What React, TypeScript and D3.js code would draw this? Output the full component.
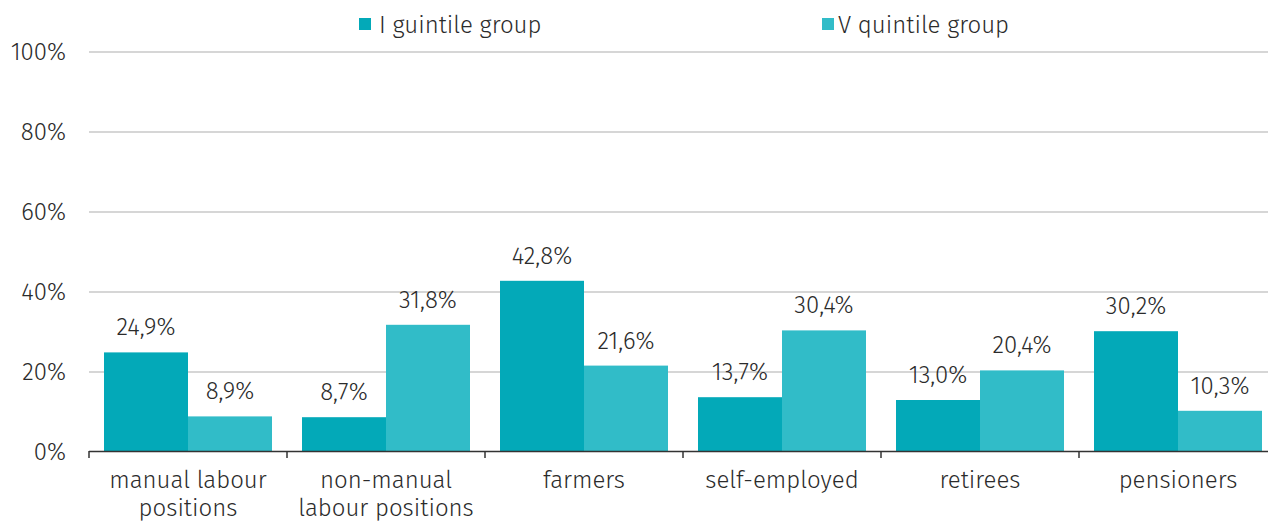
import React from "react";
import * as d3 from "d3";

const categories = [
  ["manual labour", "positions"],
  ["non-manual", "labour positions"],
  ["farmers"],
  ["self-employed"],
  ["retirees"],
  ["pensioners"],
];
const seriesNames = ["I guintile group", "V quintile group"];
const quintile1 = [24.9, 8.7, 42.8, 13.7, 13.0, 30.2];
const quintile5 = [8.9, 31.8, 21.6, 30.4, 20.4, 10.3];
const yTicks = [0, 20, 40, 60, 80, 100];

const W = 1268;
const H = 522;
const colors = ["#03A9B8", "#31BCC8"];
const font = "'Fira Sans', 'Noto Sans', sans-serif";
const textColor = "#2b2b2b";
const FS = 24;
const FW = 300;

export default function App() {
  const x0 = d3
    .scaleBand<number>()
    .domain(d3.range(categories.length))
    .range([89, 1277])
    .paddingInner(0)
    .paddingOuter(0);
  const y = d3.scaleLinear().domain([0, 100]).range([452, 52]);
  const fmt = (v: number) => v.toFixed(1).replace(".", ",") + "%";
  const series = [quintile1, quintile5];

  const pad = 15;
  const barW = (x0.bandwidth() - 2 * pad) / 2;

  return (
    <svg
      width={W}
      height={H}
      style={{ position: "absolute", left: 0, top: 0, fontFamily: font, fontWeight: FW }}
    >
      <rect width={W} height={H} fill="#ffffff" />
      {yTicks.map((t) => (
        <g key={t}>
          {t > 0 && (
            <line x1={89} x2={W} y1={y(t)} y2={y(t)} stroke="#c9c9c9" strokeWidth={1.5} />
          )}
          <text
            x={66}
            y={y(t)}
            dy="0.35em"
            textAnchor="end"
            fontSize={FS}
            fill={textColor}
          >
            {t}%
          </text>
        </g>
      ))}
      {categories.map((c, i) => {
        const bx = x0(i)!;
        return (
          <g key={i}>
            {series.map((s, j) => {
              const xx = bx + pad + j * barW;
              return (
                <g key={j}>
                  <rect
                    x={xx}
                    y={y(s[i])}
                    width={barW}
                    height={y(0) - y(s[i])}
                    fill={colors[j]}
                  />
                  <text
                    x={xx + barW / 2}
                    y={y(s[i]) - 17}
                    textAnchor="middle"
                    fontSize={FS}
                    fill={textColor}
                  >
                    {fmt(s[i])}
                  </text>
                </g>
              );
            })}
            {c.map((line, k) => (
              <text
                key={k}
                x={bx + x0.bandwidth() / 2}
                y={488 + k * 28}
                textAnchor="middle"
                fontSize={FS}
                fill={textColor}
              >
                {line}
              </text>
            ))}
          </g>
        );
      })}
      <line x1={89} x2={W} y1={451.5} y2={451.5} stroke="#333333" strokeWidth={1.5} />
      {d3.range(categories.length + 1).map((i) => {
        const tx = 89 + i * x0.step();
        return (
          <line key={i} x1={tx} x2={tx} y1={451} y2={458} stroke="#333333" strokeWidth={1.5} />
        );
      })}
      {seriesNames.map((n, j) => {
        const lx = j === 0 ? 359 : 822;
        const tx = j === 0 ? 379 : 838;
        return (
          <g key={n}>
            <rect x={lx} y={18} width={12} height={12} fill={colors[j]} />
            <text x={tx} y={33} fontSize={FS} fill={textColor}>
              {n}
            </text>
          </g>
        );
      })}
    </svg>
  );
}
